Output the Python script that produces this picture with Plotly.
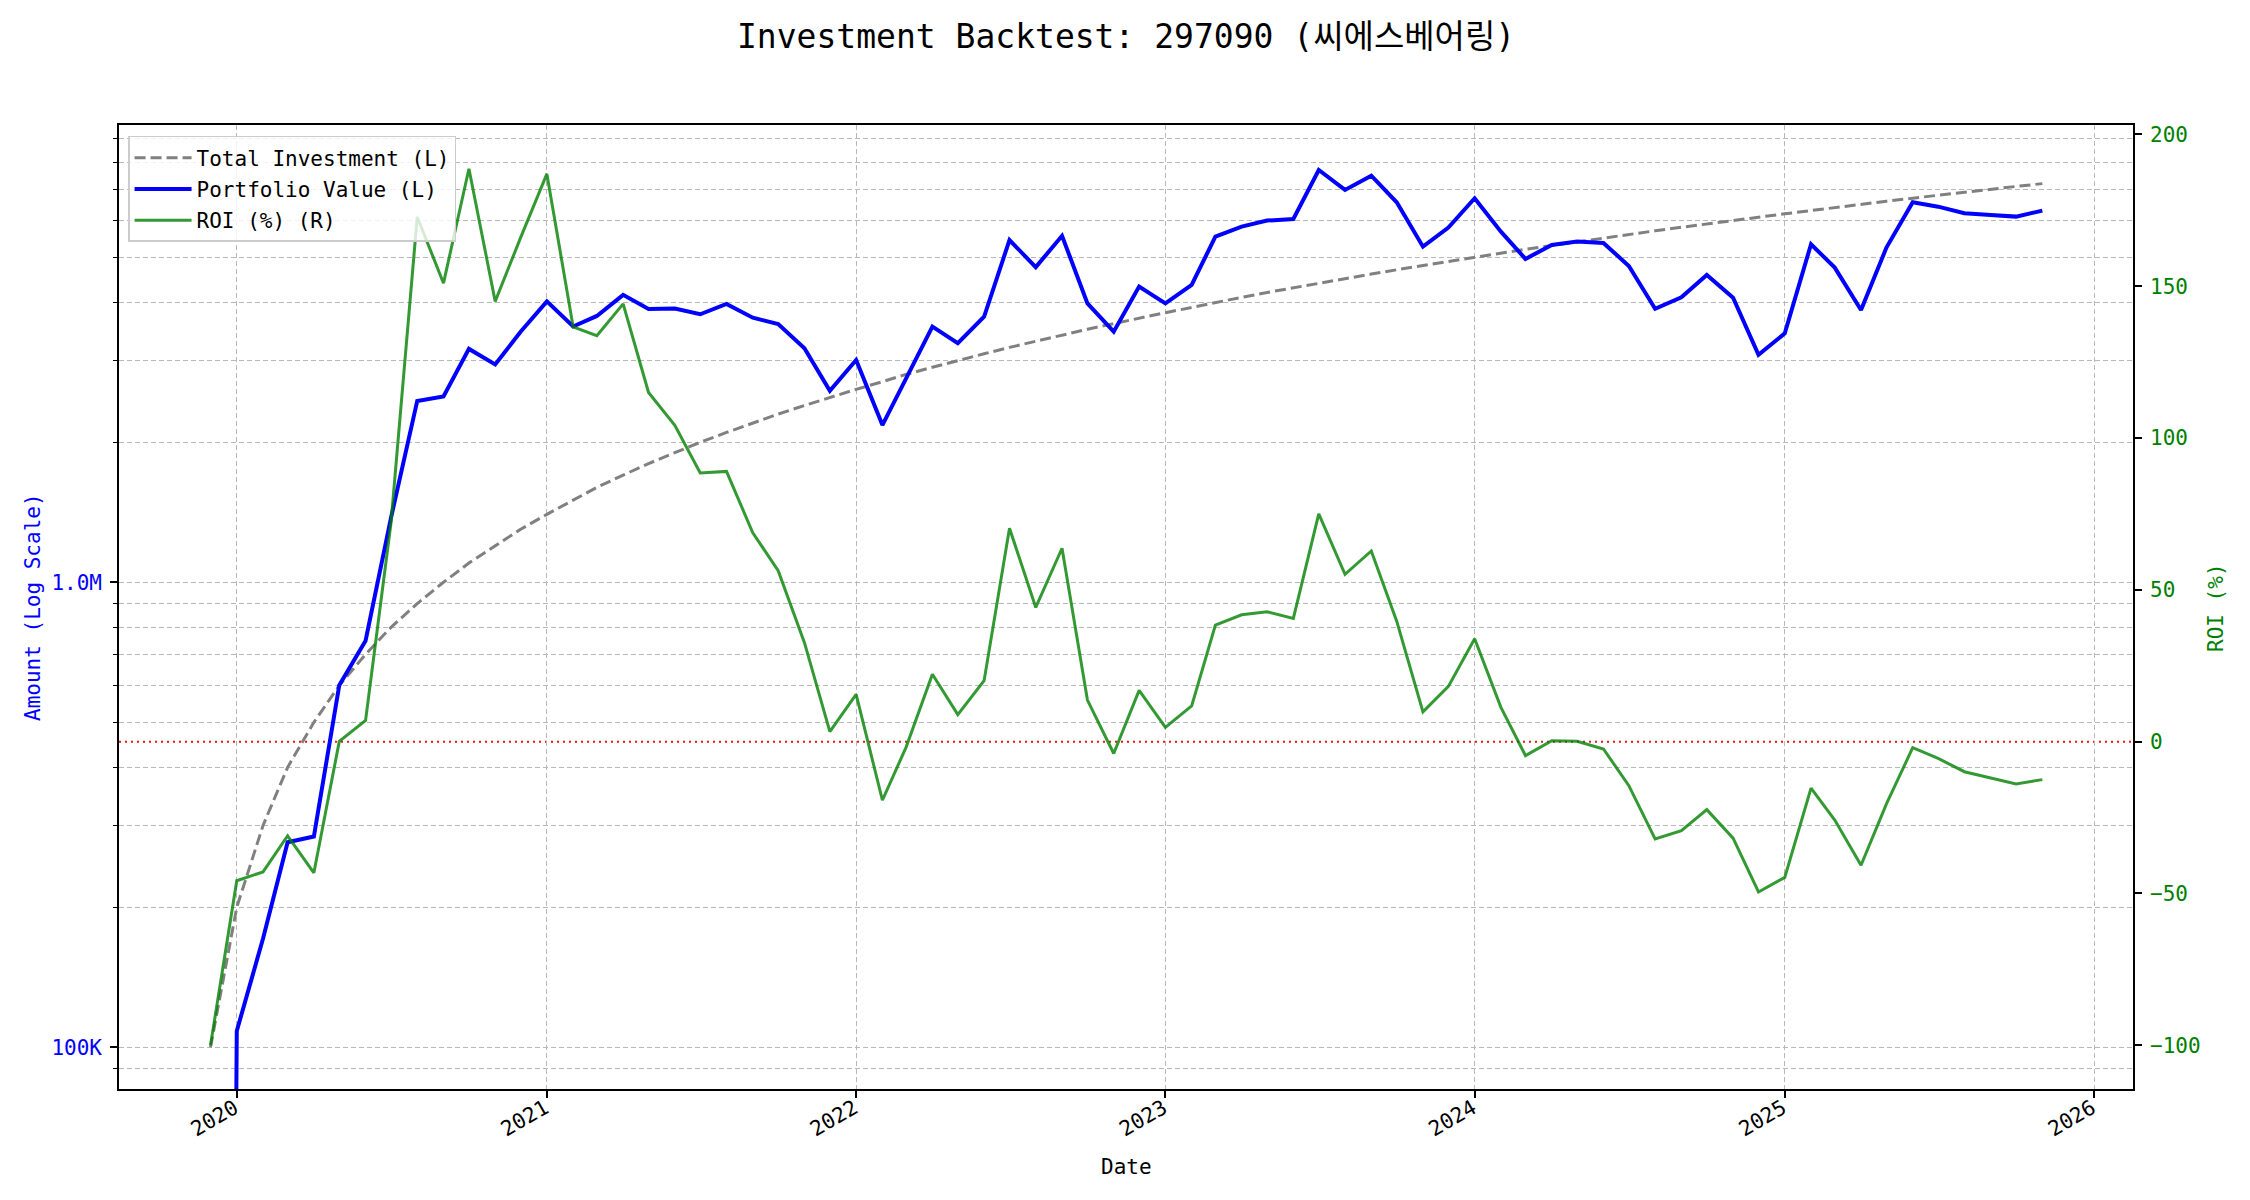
import plotly.graph_objects as go

# ---------------- data ----------------
dates = [
    "2019-12-01",
    "2020-01-01", "2020-02-01", "2020-03-01", "2020-04-01", "2020-05-01", "2020-06-01",
    "2020-07-01", "2020-08-01", "2020-09-01", "2020-10-01", "2020-11-01", "2020-12-01",
    "2021-01-01", "2021-02-01", "2021-03-01", "2021-04-01", "2021-05-01", "2021-06-01",
    "2021-07-01", "2021-08-01", "2021-09-01", "2021-10-01", "2021-11-01", "2021-12-01",
    "2022-01-01", "2022-02-01", "2022-03-01", "2022-04-01", "2022-05-01", "2022-06-01",
    "2022-07-01", "2022-08-01", "2022-09-01", "2022-10-01", "2022-11-01", "2022-12-01",
    "2023-01-01", "2023-02-01", "2023-03-01", "2023-04-01", "2023-05-01", "2023-06-01",
    "2023-07-01", "2023-08-01", "2023-09-01", "2023-10-01", "2023-11-01", "2023-12-01",
    "2024-01-01", "2024-02-01", "2024-03-01", "2024-04-01", "2024-05-01", "2024-06-01",
    "2024-07-01", "2024-08-01", "2024-09-01", "2024-10-01", "2024-11-01", "2024-12-01",
    "2025-01-01", "2025-02-01", "2025-03-01", "2025-04-01", "2025-05-01", "2025-06-01",
    "2025-07-01", "2025-08-01", "2025-09-01", "2025-10-01", "2025-11-01",
]

total_investment = [
    100000,
    200000, 300000, 400000, 500000, 600000, 700000,
    800000, 900000, 1000000, 1100000, 1200000, 1300000,
    1400000, 1500000, 1600000, 1700000, 1800000, 1900000,
    2000000, 2100000, 2200000, 2300000, 2400000, 2500000,
    2600000, 2700000, 2800000, 2900000, 3000000, 3100000,
    3200000, 3300000, 3400000, 3500000, 3600000, 3700000,
    3800000, 3900000, 4000000, 4100000, 4200000, 4300000,
    4400000, 4500000, 4600000, 4700000, 4800000, 4900000,
    5000000, 5100000, 5200000, 5300000, 5400000, 5500000,
    5600000, 5700000, 5800000, 5900000, 6000000, 6100000,
    6200000, 6300000, 6400000, 6500000, 6600000, 6700000,
    6800000, 6900000, 7000000, 7100000, 7200000,
]

portfolio_value = [
    0,
    108400, 171300, 276000, 284000, 601000, 749000,
    1376000, 2455000, 2510000, 3176000, 2940000, 3458000,
    4018000, 3549000, 3739000, 4151000, 3870000, 3880000,
    3770000, 3968000, 3707000, 3593000, 3186000, 2582000,
    3006000, 2178000, 2750000, 3546000, 3266000, 3724000,
    5445000, 4761000, 5560000, 3980000, 3459000, 4323000,
    3980000, 4360000, 5538000, 5818000, 5995000, 6044000,
    7702000, 6978000, 7490000, 6565000, 5269000, 5790000,
    6697000, 5675000, 4959000, 5314000, 5403000, 5367000,
    4789000, 3875000, 4102000, 4580000, 4093000, 3083000,
    3431000, 5333000, 4750000, 3852000, 5245000, 6565000,
    6423000, 6216000, 6166000, 6115000, 6300000,
]

roi_pct = [
    -100.0,
    -45.8, -42.9, -31.0, -43.2, 0.1, 7.0,
    72.0, 172.8, 151.0, 188.7, 145.0, 166.0,
    187.0, 136.6, 133.7, 144.2, 115.0, 104.2,
    88.5, 89.0, 68.8, 56.3, 32.6, 3.3,
    15.6, -19.3, -1.8, 22.2, 8.9, 20.1,
    70.3, 44.2, 63.7, 13.7, -3.9, 16.9,
    4.7, 11.8, 38.4, 41.8, 42.8, 40.6,
    75.0, 55.1, 62.8, 39.7, 9.8, 18.2,
    33.9, 11.3, -4.6, 0.3, 0.1, -2.4,
    -14.5, -32.0, -29.3, -22.4, -31.8, -49.5,
    -44.7, -15.3, -25.8, -40.7, -20.5, -2.0,
    -5.5, -9.9, -11.9, -13.9, -12.5,
]

year_ticks = ["2020-01-01", "2021-01-01", "2022-01-01", "2023-01-01",
              "2024-01-01", "2025-01-01", "2026-01-01"]
year_labels = ["2020", "2021", "2022", "2023", "2024", "2025", "2026"]
left_tick_vals = [100000, 1000000]
left_tick_text = ["100K", "1.0M"]
right_tick_vals = [-100, -50, 0, 50, 100, 150, 200]

title_text = "Investment Backtest: 297090 (씨에스베어링)"

# ---------------- styling ----------------
FONT = "DejaVu Sans Mono, Noto Sans CJK KR, monospace"
GRID = "#b8b8b8"
GRIDDASH = "5px,3px"

# log axis: non-positive values are clipped to a tiny number (as matplotlib does)
portfolio_plot = [v if v > 0 else 1e-3 for v in portfolio_value]

minor_vals = [m * 10 ** e for e in (4, 5, 6) for m in range(2, 10)]

fig = go.Figure()

fig.add_trace(go.Scatter(
    x=dates, y=total_investment, name="Total Investment (L)", mode="lines",
    line=dict(color="#808080", width=3, dash="11px,5px"), yaxis="y",
    legendgroup="a",
))
fig.add_trace(go.Scatter(
    x=dates, y=portfolio_plot, name="Portfolio Value (L)", mode="lines",
    line=dict(color="#0000ff", width=4), yaxis="y",
    legendgroup="b",
))
fig.add_trace(go.Scatter(
    x=dates, y=roi_pct, name="ROI (%) (R)", mode="lines",
    line=dict(color="rgba(0,128,0,0.8)", width=3), yaxis="y2",
    legendgroup="c",
))

fig.add_shape(type="line", xref="paper", x0=0, x1=1, yref="y2", y0=0, y1=0,
              line=dict(color="rgba(220,0,0,0.9)", width=2, dash="2px,4px"),
              layer="between")

fig.update_layout(
    width=2250, height=1200,
    paper_bgcolor="white", plot_bgcolor="white",
    margin=dict(l=111, r=125, t=117, b=119, autoexpand=False),
    font=dict(family=FONT, size=21, color="black"),
    showlegend=True,
    legend=dict(
        x=0.0045, y=0.9886, xanchor="left", yanchor="top",
        bgcolor="rgba(255,255,255,0.8)", bordercolor="#cccccc", borderwidth=1.5,
        font=dict(family=FONT, size=21, color="black"),
        itemwidth=57, tracegroupgap=1,
    ),
    xaxis=dict(
        type="date", range=["2019-08-15", "2026-02-16"],
        tickmode="array", tickvals=year_ticks, ticktext=year_labels,
        tickangle=-30, ticks="outside", ticklen=7, tickwidth=1.6, tickcolor="black",
        tickfont=dict(family=FONT, size=21, color="black"),
        ticklabelshift=-2, ticklabelstandoff=-10,
        showgrid=True, gridcolor=GRID, gridwidth=1, griddash=GRIDDASH,
        showline=True, linecolor="black", linewidth=1.6, mirror=True,
        zeroline=False,
    ),
    yaxis=dict(
        type="log", range=[4.9103, 6.9834],
        tickmode="array", tickvals=left_tick_vals, ticktext=left_tick_text,
        ticks="outside", ticklen=7, tickwidth=1.6, tickcolor="black",
        tickfont=dict(family=FONT, size=21, color="#0000ff"),
        ticklabelstandoff=4,
        showgrid=True, gridcolor=GRID, gridwidth=1, griddash=GRIDDASH,
        minor=dict(tickmode="array", tickvals=minor_vals, ticks="outside", ticklen=4,
                   tickwidth=1.2, tickcolor="black",
                   showgrid=True, gridcolor=GRID, gridwidth=1, griddash=GRIDDASH),
        showline=True, linecolor="black", linewidth=1.6,
        zeroline=False,
    ),
    yaxis2=dict(
        overlaying="y", side="right", range=[-114.4, 203.1],
        tickmode="array", tickvals=right_tick_vals,
        ticks="outside", ticklen=7, tickwidth=1.6, tickcolor="black",
        tickfont=dict(family=FONT, size=21, color="#008000"),
        ticklabelstandoff=4,
        showgrid=False, zeroline=False,
        showline=True, linecolor="black", linewidth=1.6,
    ),
    annotations=[
        dict(text=title_text, xref="paper", yref="paper", x=0.5, y=1.0913,
             xanchor="center", yanchor="middle", showarrow=False,
             font=dict(family=FONT, size=33, color="black")),
        dict(text="Date", xref="paper", yref="paper", x=0.5, y=-0.0809,
             xanchor="center", yanchor="middle", showarrow=False,
             font=dict(family=FONT, size=21, color="black")),
        dict(text="Amount (Log Scale)", xref="paper", yref="paper", x=-0.0427, y=0.5,
             xanchor="center", yanchor="middle", showarrow=False, textangle=-90,
             font=dict(family=FONT, size=21, color="#0000ff")),
        dict(text="ROI (%)", xref="paper", yref="paper", x=1.0412, y=0.5,
             xanchor="center", yanchor="middle", showarrow=False, textangle=-90,
             font=dict(family=FONT, size=21, color="#008000")),
    ],
)

fig.write_html("out.html")
